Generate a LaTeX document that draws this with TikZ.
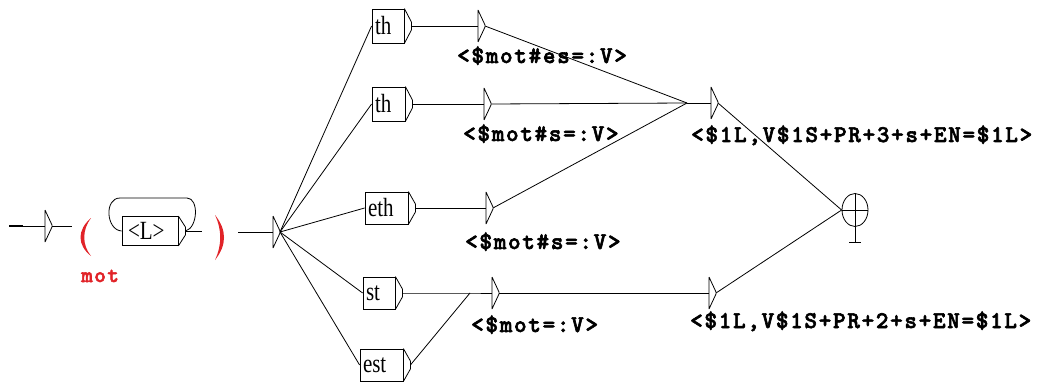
\documentclass[tikz,border=0pt]{standalone}
\usepackage{fontspec}
\usetikzlibrary{calc,shapes.geometric}
\newfontfamily\labfont{lmmonolt10-bold}[Extension=.otf, LetterSpace=7, FakeBold=2.5]
\newfontfamily\serfont{Liberation Serif}
\definecolor{varred}{RGB}{225,35,40}
\tikzset{
  edge/.style={line width=0.8pt},
  box/.style={draw, line width=0.8pt, inner xsep=3pt, inner ysep=0pt, align=left,
    font=\serfont\fontsize{21}{21}\selectfont},
  outlab/.style={anchor=base west, inner sep=0pt, font=\labfont\fontsize{24}{24}\selectfont},
  estate/.pic={
    \draw[line width=0.8pt] (0,-16) -- (0,16) (0,-16) -- (7,-1) -- (7,1) -- (0,16);
    \coordinate (-in) at (0,0);
    \coordinate (-out) at (7,0);
  },
}
\newcommand\boxtail[1]{%
  \draw[edge] (#1.north east) -- ($(#1.east)+(7,-4)$) -- ($(#1.east)+(7,4)$) -- (#1.south east);
  \coordinate (#1-out) at ($(#1.east)+(7,0)$);}
\newcommand\bt[1]{\scalebox{1}[1.25]{#1}}
\begin{document}
\begin{tikzpicture}[x=1pt,y=-1pt]
\useasboundingbox (0,0) rectangle (1038,382);

% initial state
\coordinate (start) at (9,226);
\coordinate (startb) at (23,226);
\pic (init) at (45,226) {estate};
\coordinate (pre) at (72,226);
\draw[line width=2.5pt] (start) -- (startb);
\draw[edge] (startb) -- (init-in);
\draw[edge] (init-out) -- (pre);

% variable parentheses
\fill[varred] (91,218) .. controls (77,230) and (77,245) .. (91,256)
              .. controls (82,245) and (82,230) .. (91,218) -- cycle;
\fill[varred] (215,215) .. controls (227,230) and (227,245) .. (215,260)
              .. controls (222,245) and (222,230) .. (215,215) -- cycle;
\node[anchor=base west, inner sep=0pt, text=varred, font=\labfont\fontsize{22}{22}\selectfont] (mot) at (81,282) {mot};

% <L> box with loop
\node[box, text width=50pt, minimum height=29pt] (L) at (150,231) {\hspace{3pt}\bt{<L>}};
\boxtail{L}
\coordinate (lend) at (202,231);
\draw[edge] (L-out) -- (lend);
\draw[edge] (L-out) .. controls (198,228) and (199,198) .. (187,198)
   -- (120,198) .. controls (104,198) and (106,230) .. (L.west);

% hub
\coordinate (post) at (238,232);
\pic (hub) at (273,232) {estate};
\draw[edge] (post) -- (hub-in);

% boxes
\node[box, text width=26pt, minimum height=34pt] (th1) at (388,26) {\bt{th}};
\node[box, text width=27pt, minimum height=34pt] (th2) at (388.5,104) {\bt{th}};
\node[box, text width=37pt, minimum height=32pt] (eth) at (386.5,208) {\bt{eth}};
\node[box, text width=26pt, minimum height=32pt] (st) at (379,293) {\bt{st}};
\node[box, text width=37pt, minimum height=32pt] (est) at (381.5,365) {\bt{est}};
\foreach \b in {th1,th2,eth,st,est} {\boxtail{\b}}

\foreach \b in {th1,th2,eth,st,est} {\draw[edge] (hub-out) -- (\b.west);}

% epsilon boxes with outputs
\pic (E1) at (478,26) {estate};
\pic (E2) at (484,104) {estate};
\pic (E3) at (486,208) {estate};
\pic (E5) at (492,293) {estate};
\pic (E4) at (711,103) {estate};
\pic (E6) at (709,293) {estate};
\coordinate (J1) at (687,103);
\coordinate (J2) at (470,293);

\draw[edge] (th1-out) -- (E1-in);
\draw[edge] (th2-out) -- (E2-in);
\draw[edge] (eth-out) -- (E3-in);
\draw[edge] (st-out) -- (J2) -- (E5-in);
\draw[edge] (est-out) -- (J2);
\draw[edge] (E1-out) -- (J1);
\draw[edge] (E2-out) -- (J1);
\draw[edge] (E3-out) -- (J1);
\draw[edge] (J1) -- (E4-in);
\draw[edge] (E5-out) -- (E6-in);

% final state
\node[draw, ellipse, line width=0.8pt, minimum width=26pt, minimum height=33pt, inner sep=0pt] (fin) at (855,210) {};
\coordinate (finfoot) at (855,242);
\draw[edge] (fin.west) -- (fin.east);
\draw[edge] (fin.north) -- (finfoot);
\draw[edge] ($(finfoot)+(-6,0)$) -- ($(finfoot)+(6,0)$);
\draw[edge] (E4-out) -- (fin.west);
\draw[edge] (E6-out) -- (fin.west);

% outputs
\node[outlab] (o1) at (457,63) {<\$mot\#es=:V>};
\node[outlab] (o2) at (463,141) {<\$mot\#s=:V>};
\node[outlab] (o3) at (465,249) {<\$mot\#s=:V>};
\node[outlab] (o5) at (471,332) {<\$mot=:V>};
\node[outlab] (o4) at (691,142) {<\$1L,V\$1S+PR+3+s+EN=\$1L>};
\node[outlab] (o6) at (690,328) {<\$1L,V\$1S+PR+2+s+EN=\$1L>};
\end{tikzpicture}
\end{document}
